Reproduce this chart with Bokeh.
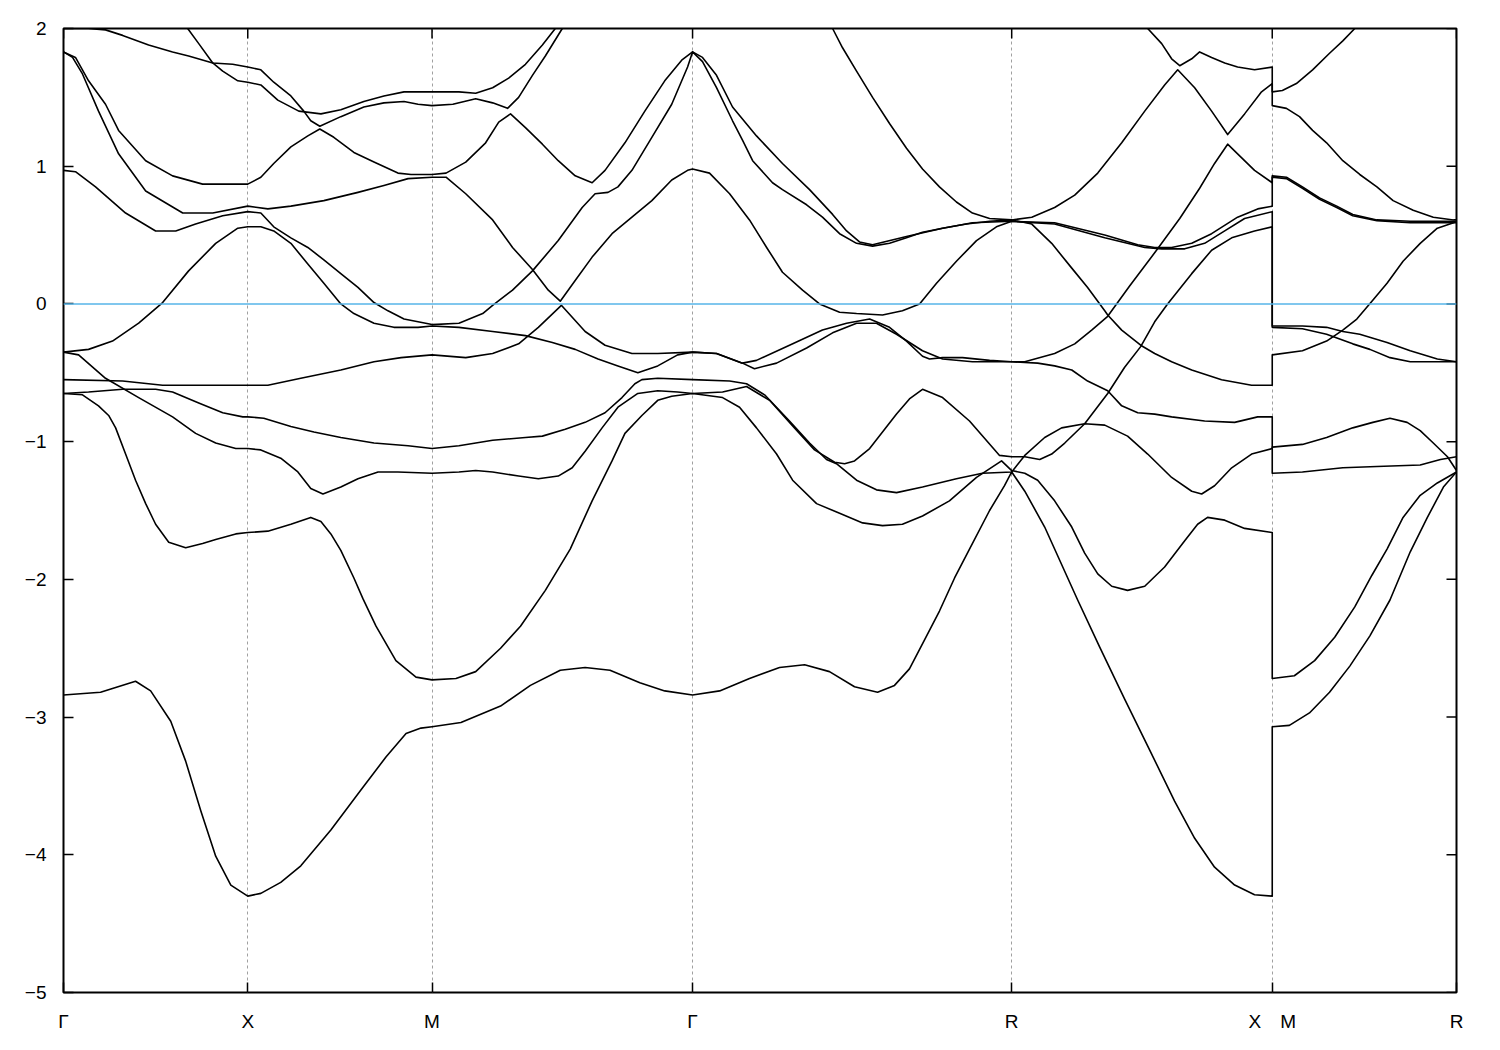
import numpy as np
from bokeh.plotting import figure
from bokeh.models import Range1d, FixedTicker, Span
from bokeh.embed import file_html
from bokeh.resources import INLINE

# high-symmetry points along the k-path (unit = Gamma-X length)
kpath_ticks = [0.0, 1.0, 2.0, 3.414, 5.146, 6.560, 7.560]
kpath_labels = ["Γ", "X", "M", "Γ", "R", "X\u2003M", "R"]
energy_ticks = [-5, -4, -3, -2, -1, 0, 1, 2]
energy_min, energy_max = -5, 2
fermi_level = 0.0

# bands: (k, E) pairs
band01 = [
    (0.000, -2.84), (0.201, -2.82), (0.391, -2.74), (0.473, -2.81), (0.582, -3.03), (0.663, -3.32), (0.745, -3.68),
    (0.826, -4.01), (0.908, -4.22), (1.000, -4.30),
    (1.071, -4.28), (1.179, -4.20), (1.288, -4.08), (1.451, -3.82), (1.614, -3.53), (1.750, -3.29), (1.859, -3.12),
    (1.940, -3.08), (2.000, -3.07),
    (2.157, -3.04), (2.372, -2.92), (2.534, -2.77), (2.696, -2.66), (2.831, -2.64), (2.966, -2.66), (3.128, -2.75),
    (3.263, -2.81), (3.414, -2.84),
    (3.561, -2.81), (3.723, -2.72), (3.886, -2.64), (4.022, -2.62), (4.157, -2.67), (4.293, -2.78), (4.418, -2.82),
    (4.510, -2.77), (4.591, -2.65), (4.673, -2.44), (4.754, -2.23), (4.836, -1.99), (4.917, -1.78), (5.026, -1.50),
    (5.107, -1.32), (5.146, -1.22),
    (5.217, -1.36), (5.325, -1.62), (5.504, -2.15), (5.623, -2.49), (5.759, -2.87), (5.895, -3.24), (6.030, -3.61),
    (6.139, -3.88), (6.247, -4.09), (6.356, -4.22), (6.464, -4.29), (6.560, -4.30),
    (6.560, -3.07), (6.653, -3.06), (6.762, -2.97), (6.871, -2.82), (6.981, -2.63), (7.090, -2.41), (7.199, -2.15),
    (7.309, -1.80), (7.402, -1.55), (7.489, -1.33), (7.560, -1.22),
]
band02 = [
    (0.000, -0.65), (0.103, -0.66), (0.190, -0.74), (0.245, -0.81), (0.283, -0.90), (0.337, -1.09), (0.391, -1.28),
    (0.446, -1.45), (0.500, -1.60), (0.571, -1.73), (0.663, -1.77), (0.755, -1.74), (0.826, -1.71), (0.935, -1.67),
    (1.000, -1.66),
    (1.109, -1.65), (1.234, -1.60), (1.342, -1.55), (1.397, -1.58), (1.451, -1.67), (1.505, -1.79), (1.576, -1.99),
    (1.625, -2.14), (1.696, -2.34), (1.804, -2.59), (1.913, -2.71), (2.000, -2.73),
    (2.130, -2.72), (2.237, -2.67), (2.372, -2.50), (2.480, -2.34), (2.615, -2.08), (2.750, -1.78), (2.869, -1.43),
    (2.977, -1.14), (3.047, -0.94), (3.139, -0.81), (3.225, -0.70), (3.301, -0.67), (3.414, -0.65),
    (3.577, -0.68), (3.669, -0.75), (3.761, -0.90), (3.870, -1.09), (3.957, -1.28), (4.087, -1.45), (4.212, -1.52),
    (4.337, -1.59), (4.445, -1.61), (4.553, -1.60), (4.662, -1.54), (4.808, -1.43), (4.955, -1.26), (5.091, -1.14),
    (5.146, -1.21),
    (5.217, -1.23), (5.287, -1.28), (5.379, -1.43), (5.472, -1.62), (5.542, -1.81), (5.613, -1.96), (5.689, -2.05),
    (5.775, -2.08), (5.868, -2.05), (5.976, -1.91), (6.085, -1.72), (6.155, -1.60), (6.209, -1.55), (6.302, -1.57),
    (6.410, -1.63), (6.560, -1.66),
    (6.560, -2.72), (6.680, -2.70), (6.790, -2.59), (6.899, -2.42), (7.008, -2.20), (7.101, -1.97), (7.183, -1.78),
    (7.270, -1.55), (7.363, -1.39), (7.456, -1.30), (7.560, -1.22),
]
band03 = [
    (0.000, -0.65), (0.136, -0.64), (0.321, -0.62), (0.500, -0.62), (0.592, -0.64), (0.734, -0.72), (0.864, -0.79),
    (0.973, -0.82), (1.000, -0.82),
    (1.087, -0.83), (1.234, -0.89), (1.359, -0.93), (1.505, -0.97), (1.685, -1.01), (1.870, -1.03), (2.000, -1.05),
    (2.146, -1.03), (2.329, -0.99), (2.507, -0.97), (2.599, -0.96), (2.723, -0.91), (2.831, -0.86), (2.939, -0.79),
    (3.031, -0.68), (3.101, -0.58), (3.139, -0.55), (3.225, -0.54), (3.414, -0.55),
    (3.615, -0.56), (3.707, -0.58), (3.805, -0.66), (3.940, -0.85), (4.049, -1.01), (4.141, -1.13), (4.195, -1.16),
    (4.304, -1.28), (4.412, -1.35), (4.521, -1.37), (4.662, -1.33), (4.846, -1.27), (4.987, -1.23), (5.146, -1.22),
    (5.217, -1.10), (5.325, -0.97), (5.417, -0.90), (5.542, -0.87), (5.651, -0.88), (5.775, -0.96), (5.884, -1.09),
    (6.014, -1.26), (6.123, -1.36), (6.177, -1.38), (6.247, -1.32), (6.340, -1.19), (6.448, -1.09), (6.560, -1.05),
    (6.560, -1.04), (6.724, -1.02), (6.855, -0.97), (6.997, -0.90), (7.106, -0.86), (7.199, -0.83), (7.292, -0.86),
    (7.363, -0.92), (7.434, -1.01), (7.511, -1.11), (7.560, -1.21),
]
band04 = [
    (0.000, -0.55), (0.321, -0.56), (0.538, -0.59), (0.750, -0.59), (1.000, -0.59),
    (1.109, -0.59), (1.288, -0.54), (1.505, -0.48), (1.685, -0.42), (1.832, -0.39), (2.000, -0.37),
    (2.183, -0.39), (2.329, -0.36), (2.470, -0.29), (2.577, -0.17), (2.702, -0.01), (2.831, -0.20), (2.939, -0.30),
    (3.085, -0.36), (3.225, -0.36), (3.414, -0.35),
    (3.544, -0.36), (3.685, -0.43), (3.761, -0.41), (3.940, -0.30), (4.119, -0.19), (4.250, -0.14), (4.375, -0.11),
    (4.483, -0.17), (4.575, -0.27), (4.662, -0.38), (4.700, -0.40), (4.771, -0.39), (4.879, -0.39), (5.026, -0.41),
    (5.146, -0.42),
    (5.287, -0.43), (5.379, -0.45), (5.472, -0.48), (5.558, -0.56), (5.667, -0.63), (5.743, -0.74), (5.830, -0.79),
    (5.922, -0.80), (6.014, -0.82), (6.193, -0.85), (6.356, -0.86), (6.481, -0.82), (6.560, -0.82),
    (6.560, -1.23), (6.724, -1.22), (6.943, -1.19), (7.128, -1.18), (7.363, -1.17), (7.473, -1.13), (7.560, -1.11),
]
band05 = [
    (0.000, -0.35), (0.082, -0.37), (0.228, -0.54), (0.408, -0.68), (0.592, -0.82), (0.717, -0.94), (0.826, -1.01),
    (0.935, -1.05), (1.000, -1.05),
    (1.071, -1.06), (1.179, -1.12), (1.272, -1.22), (1.342, -1.34), (1.408, -1.38), (1.505, -1.33), (1.598, -1.27),
    (1.707, -1.22), (1.815, -1.22), (2.000, -1.23),
    (2.146, -1.22), (2.237, -1.21), (2.329, -1.22), (2.470, -1.25), (2.577, -1.27), (2.685, -1.25), (2.761, -1.19),
    (2.831, -1.07), (2.923, -0.90), (3.009, -0.75), (3.117, -0.65), (3.225, -0.63), (3.333, -0.64), (3.414, -0.65),
    (3.577, -0.64), (3.707, -0.60), (3.832, -0.70), (3.967, -0.90), (4.076, -1.06), (4.185, -1.15), (4.239, -1.16),
    (4.293, -1.14), (4.375, -1.05), (4.521, -0.80), (4.591, -0.69), (4.662, -0.62), (4.771, -0.68), (4.917, -0.85),
    (5.080, -1.10), (5.146, -1.11),
    (5.217, -1.11), (5.298, -1.13), (5.363, -1.09), (5.434, -1.01), (5.542, -0.87), (5.667, -0.65), (5.759, -0.46),
    (5.846, -0.31), (5.922, -0.13), (5.992, 0.00), (6.123, 0.22), (6.231, 0.39), (6.340, 0.48), (6.464, 0.53),
    (6.560, 0.56),
    (6.560, -0.17), (6.724, -0.18), (6.855, -0.22), (6.997, -0.29), (7.090, -0.33), (7.199, -0.39), (7.309, -0.42),
    (7.560, -0.42),
]
band06 = [
    (0.000, -0.35), (0.136, -0.33), (0.266, -0.27), (0.408, -0.14), (0.538, 0.01), (0.679, 0.24), (0.826, 0.44),
    (0.946, 0.55), (1.000, 0.56),
    (1.071, 0.56), (1.141, 0.53), (1.234, 0.44), (1.326, 0.29), (1.413, 0.15), (1.505, 0.00), (1.576, -0.07),
    (1.685, -0.14), (1.793, -0.17), (1.924, -0.17), (2.000, -0.16),
    (2.146, -0.17), (2.329, -0.20), (2.507, -0.23), (2.653, -0.28), (2.777, -0.33), (2.901, -0.40), (3.009, -0.45),
    (3.117, -0.50), (3.225, -0.45), (3.333, -0.37), (3.414, -0.35),
    (3.544, -0.36), (3.685, -0.43), (3.750, -0.47), (3.870, -0.43), (4.033, -0.32), (4.174, -0.21), (4.304, -0.14),
    (4.412, -0.14), (4.521, -0.22), (4.662, -0.34), (4.771, -0.40), (4.933, -0.42), (5.146, -0.42),
    (5.217, -0.42), (5.379, -0.36), (5.488, -0.29), (5.580, -0.19), (5.667, -0.09), (5.786, 0.13), (5.938, 0.40),
    (6.058, 0.62), (6.166, 0.84), (6.247, 1.02), (6.318, 1.16), (6.372, 1.09), (6.464, 0.97), (6.560, 0.88),
    (6.560, 0.93), (6.637, 0.92), (6.724, 0.85), (6.817, 0.77), (6.910, 0.71), (6.997, 0.65), (7.128, 0.61),
    (7.309, 0.60), (7.560, 0.60),
]
band07 = [
    (0.000, 0.97), (0.065, 0.96), (0.174, 0.85), (0.337, 0.66), (0.500, 0.53), (0.609, 0.53), (0.717, 0.58),
    (0.864, 0.64), (1.000, 0.67),
    (1.071, 0.66), (1.141, 0.56), (1.234, 0.48), (1.326, 0.41), (1.413, 0.32), (1.505, 0.22), (1.598, 0.12),
    (1.685, 0.01), (1.761, -0.05), (1.848, -0.11), (2.000, -0.15),
    (2.146, -0.14), (2.275, -0.07), (2.329, -0.01), (2.437, 0.10), (2.545, 0.24), (2.685, 0.46), (2.815, 0.70),
    (2.885, 0.80), (2.955, 0.81), (3.009, 0.85), (3.085, 0.97), (3.193, 1.21), (3.301, 1.45), (3.387, 1.72),
    (3.414, 1.83),
    (3.468, 1.76), (3.544, 1.57), (3.631, 1.33), (3.685, 1.19), (3.740, 1.04), (3.848, 0.88), (3.902, 0.83),
    (4.033, 0.72), (4.119, 0.63), (4.212, 0.51), (4.304, 0.44), (4.391, 0.42), (4.483, 0.44), (4.575, 0.48),
    (4.662, 0.52), (4.771, 0.55), (4.901, 0.58), (5.026, 0.60), (5.146, 0.61),
    (5.255, 0.58), (5.363, 0.44), (5.472, 0.26), (5.558, 0.12), (5.651, -0.05), (5.667, -0.08), (5.743, -0.19),
    (5.846, -0.30), (5.922, -0.36), (6.014, -0.42), (6.123, -0.48), (6.285, -0.55), (6.448, -0.59), (6.560, -0.59),
    (6.560, -0.37), (6.724, -0.34), (6.855, -0.27), (6.943, -0.19), (7.019, -0.11), (7.101, 0.02), (7.183, 0.15),
    (7.270, 0.31), (7.363, 0.44), (7.456, 0.55), (7.544, 0.59), (7.560, 0.60),
]
band08 = [
    (0.000, 1.83), (0.049, 1.79), (0.103, 1.67), (0.190, 1.40), (0.299, 1.09), (0.446, 0.82), (0.647, 0.66),
    (0.810, 0.66), (1.000, 0.71),
    (1.109, 0.69), (1.234, 0.71), (1.413, 0.75), (1.598, 0.81), (1.739, 0.86), (1.870, 0.91), (2.000, 0.92),
    (2.076, 0.92), (2.183, 0.80), (2.329, 0.61), (2.437, 0.41), (2.545, 0.25), (2.631, 0.10), (2.696, 0.02),
    (2.777, 0.17), (2.869, 0.34), (2.977, 0.51), (3.085, 0.63), (3.193, 0.75), (3.301, 0.90), (3.387, 0.97),
    (3.414, 0.98),
    (3.506, 0.95), (3.615, 0.80), (3.723, 0.61), (3.816, 0.41), (3.902, 0.23), (4.011, 0.10), (4.103, 0.00),
    (4.212, -0.06), (4.304, -0.07), (4.445, -0.08), (4.553, -0.05), (4.646, 0.00), (4.738, 0.15), (4.846, 0.31),
    (4.955, 0.46), (5.063, 0.56), (5.146, 0.60),
    (5.379, 0.59), (5.651, 0.50), (5.830, 0.43), (5.922, 0.41), (6.014, 0.41), (6.123, 0.44), (6.231, 0.51),
    (6.372, 0.63), (6.481, 0.69), (6.560, 0.71),
    (6.560, 0.92), (6.637, 0.91), (6.724, 0.84), (6.817, 0.76), (6.910, 0.70), (6.997, 0.64), (7.128, 0.605),
    (7.309, 0.59), (7.560, 0.59),
]
band09 = [
    (0.000, 1.83), (0.065, 1.79), (0.136, 1.62), (0.228, 1.45), (0.299, 1.26), (0.446, 1.04), (0.592, 0.93),
    (0.755, 0.87), (1.000, 0.87),
    (1.071, 0.92), (1.141, 1.02), (1.234, 1.14), (1.326, 1.22), (1.391, 1.27), (1.467, 1.21), (1.576, 1.10),
    (1.685, 1.03), (1.815, 0.95), (1.886, 0.94), (2.000, 0.94),
    (2.076, 0.95), (2.183, 1.03), (2.291, 1.17), (2.362, 1.32), (2.426, 1.38), (2.507, 1.28), (2.599, 1.16),
    (2.685, 1.04), (2.777, 0.93), (2.869, 0.88), (2.939, 0.97), (3.047, 1.17), (3.155, 1.40), (3.263, 1.62),
    (3.355, 1.77), (3.414, 1.83),
    (3.468, 1.79), (3.544, 1.66), (3.631, 1.43), (3.761, 1.22), (3.902, 1.02), (4.049, 0.83), (4.174, 0.65),
    (4.250, 0.53), (4.320, 0.45), (4.391, 0.43), (4.575, 0.49), (4.771, 0.55), (4.933, 0.59), (5.146, 0.60),
    (5.379, 0.58), (5.651, 0.48), (5.868, 0.41), (5.960, 0.40), (6.085, 0.40), (6.193, 0.44), (6.302, 0.53),
    (6.410, 0.62), (6.560, 0.67),
    (6.560, -0.16), (6.724, -0.16), (6.855, -0.17), (6.943, -0.20), (7.035, -0.22), (7.183, -0.28), (7.309, -0.34),
    (7.456, -0.40), (7.560, -0.42),
]
band10a = [
    (0.674, 2.00), (0.734, 1.89), (0.810, 1.75), (0.864, 1.69), (0.946, 1.62), (1.000, 1.61),
    (1.071, 1.59), (1.163, 1.48), (1.277, 1.40), (1.397, 1.38), (1.505, 1.41), (1.630, 1.47), (1.739, 1.51),
    (1.848, 1.54), (2.000, 1.54),
    (2.146, 1.54), (2.237, 1.53), (2.329, 1.57), (2.416, 1.64), (2.507, 1.74), (2.599, 1.88), (2.669, 2.00),
]
band10b = [
    (4.174, 2.00), (4.228, 1.86), (4.304, 1.69), (4.391, 1.50), (4.483, 1.31), (4.575, 1.13), (4.662, 0.98),
    (4.754, 0.85), (4.846, 0.74), (4.933, 0.66), (5.026, 0.62), (5.146, 0.61),
    (5.255, 0.63), (5.379, 0.70), (5.488, 0.79), (5.613, 0.95), (5.743, 1.17), (5.868, 1.40), (5.976, 1.59),
    (6.047, 1.70), (6.139, 1.57), (6.231, 1.40), (6.318, 1.23), (6.410, 1.38), (6.502, 1.54), (6.560, 1.60),
    (6.560, 1.44), (6.637, 1.42), (6.708, 1.36), (6.779, 1.26), (6.855, 1.17), (6.943, 1.04), (7.035, 0.94),
    (7.128, 0.85), (7.216, 0.75), (7.325, 0.68), (7.434, 0.63), (7.544, 0.61), (7.560, 0.61),
]
band11a = [
    (0.000, 2.00), (0.136, 2.00), (0.228, 1.99), (0.321, 1.95), (0.462, 1.88), (0.592, 1.83), (0.679, 1.80),
    (0.810, 1.75), (0.918, 1.74), (1.000, 1.72),
    (1.071, 1.70), (1.141, 1.61), (1.234, 1.51), (1.304, 1.40), (1.342, 1.33), (1.391, 1.29), (1.505, 1.36),
    (1.630, 1.43), (1.739, 1.46), (1.848, 1.47), (1.924, 1.45), (2.000, 1.44),
    (2.113, 1.45), (2.237, 1.49), (2.329, 1.46), (2.410, 1.42), (2.470, 1.50), (2.545, 1.66), (2.615, 1.80),
    (2.707, 2.00),
]
band11b = [
    (5.884, 2.00), (5.960, 1.89), (6.014, 1.78), (6.058, 1.73), (6.123, 1.78), (6.166, 1.83), (6.231, 1.79),
    (6.302, 1.75), (6.372, 1.72), (6.464, 1.70), (6.560, 1.72),
    (6.560, 1.54), (6.615, 1.55), (6.691, 1.60), (6.779, 1.70), (6.871, 1.82), (6.943, 1.91), (7.008, 2.00),
]

bands = [band01, band02, band03, band04, band05, band06, band07, band08, band09,
         band10a, band10b, band11a, band11b]

FONT = "Liberation Sans"

p = figure(width=1484, height=1040,
           x_range=Range1d(kpath_ticks[0], kpath_ticks[-1]), y_range=Range1d(energy_min, energy_max),
           output_backend="svg", toolbar_location=None,
           min_border_left=63, min_border_right=28, min_border_top=28, min_border_bottom=48)
p.background_fill_color = "white"
p.border_fill_color = "white"
p.outline_line_color = "black"
p.outline_line_width = 2

p.xgrid.ticker = FixedTicker(ticks=kpath_ticks)
p.xgrid.grid_line_color = "#a0a0a0"
p.xgrid.grid_line_dash = "3 3"
p.xgrid.grid_line_width = 1
p.ygrid.grid_line_color = None

for b in bands:
    k = np.array([pt[0] for pt in b])
    e = np.array([pt[1] for pt in b])
    p.line(k, e, line_color="black", line_width=1.6, line_join="round")

p.add_layout(Span(location=fermi_level, dimension="width", line_color="#56b4e9", line_width=1.5))

# axes (ticks pointing inwards)
xa = p.xaxis[0]
xa.ticker = FixedTicker(ticks=kpath_ticks)
xa.major_label_overrides = {t: l for t, l in zip(kpath_ticks, kpath_labels)}
ya = p.yaxis[0]
ya.ticker = FixedTicker(ticks=energy_ticks)

for ax in (xa, ya):
    ax.axis_line_color = None
    ax.major_tick_in = 10
    ax.major_tick_out = 0
    ax.minor_tick_line_color = None
    ax.major_tick_line_color = "black"
    ax.major_tick_line_width = 1.5
    ax.major_label_text_font = FONT
    ax.major_label_text_font_size = "19px"
    ax.major_label_text_color = "black"
ya.major_label_standoff = 17
xa.major_label_standoff = 18

# mirrored inward ticks on the right and top borders
p.ray(x=np.full(len(energy_ticks), kpath_ticks[-1]), y=np.array(energy_ticks, dtype=float),
      length=10, length_units="screen", angle=np.pi, line_color="black", line_width=1.5)
p.ray(x=np.array(kpath_ticks), y=np.full(len(kpath_ticks), float(energy_max)),
      length=10, length_units="screen", angle=-np.pi / 2, line_color="black", line_width=1.5)

open("out.html", "w").write(file_html(p, INLINE))
